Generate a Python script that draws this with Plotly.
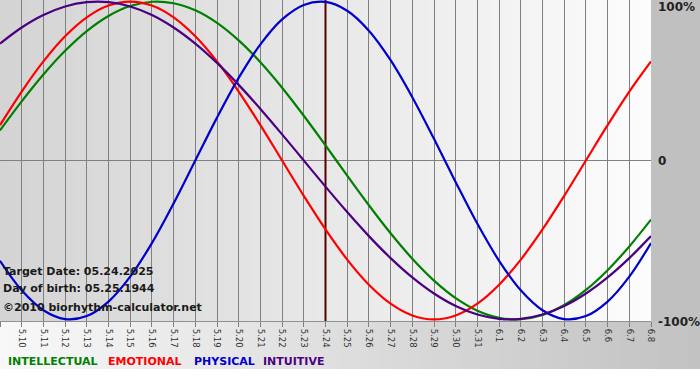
import plotly.graph_objects as go

# ---- data ----
day_labels = ["5.9", "5.10", "5.11", "5.12", "5.13", "5.14", "5.15", "5.16", "5.17", "5.18",
              "5.19", "5.20", "5.21", "5.22", "5.23", "5.24", "5.25", "5.26", "5.27", "5.28",
              "5.29", "5.30", "5.31", "6.1", "6.2", "6.3", "6.4", "6.5", "6.6", "6.7", "6.8"]

physical = [-0.6311, -0.8170, -0.9423, -0.9977, -0.9791, -0.8879, -0.7308, -0.5196, -0.2698, 0.0,
            0.2698, 0.5196, 0.7308, 0.8879, 0.9791, 0.9977, 0.9423, 0.8170, 0.6311, 0.3984,
            0.1362, -0.1362, -0.3984, -0.6311, -0.8170, -0.9423, -0.9977, -0.9791, -0.8879, -0.7308,
            -0.5196]
emotional = [0.2225, 0.4339, 0.6235, 0.7818, 0.9010, 0.9749, 1.0, 0.9749, 0.9010, 0.7818,
             0.6235, 0.4339, 0.2225, 0.0, -0.2225, -0.4339, -0.6235, -0.7818, -0.9010, -0.9749,
             -1.0, -0.9749, -0.9010, -0.7818, -0.6235, -0.4339, -0.2225, 0.0, 0.2225, 0.4339,
             0.6235]
intellectual = [0.1893, 0.3717, 0.5406, 0.6901, 0.8146, 0.9096, 0.9718, 0.9989, 0.9898, 0.9450,
                0.8660, 0.7557, 0.6182, 0.4582, 0.2817, 0.0951, -0.0951, -0.2817, -0.4582, -0.6182,
                -0.7557, -0.8660, -0.9450, -0.9898, -0.9989, -0.9718, -0.9096, -0.8146, -0.6901, -0.5406,
                -0.3717]
intuitive = [0.7357, 0.8372, 0.9158, 0.9694, 0.9966, 0.9966, 0.9694, 0.9158, 0.8372, 0.7357,
             0.6142, 0.4759, 0.3247, 0.1646, 0.0, -0.1646, -0.3247, -0.4759, -0.6142, -0.7357,
             -0.8372, -0.9158, -0.9694, -0.9966, -0.9966, -0.9694, -0.9158, -0.8372, -0.7357, -0.6142,
             -0.4759]

series_names = ["INTELLECTUAL", "EMOTIONAL", "PHYSICAL", "INTUITIVE"]
series_colors = ["#008000", "#ff0000", "#0000cc", "#4b0082"]
target_label = "5.24"
info_lines = ["Target Date: 05.24.2025", "Day of birth: 05.25.1944", "©2010 biorhythm-calculator.net"]
y_tick_text = ["100%", "0", "-100%"]

# ---- figure ----
W, H = 700, 380
ML, MR, MT, MB = 0, 49, 0, 59
PW, PH = W - ML - MR, H - MT - MB
YR = [-1.01, 1.01]

x = list(range(len(day_labels)))
fig = go.Figure()

# target day marker (drawn first so curves sit on top)
ti = day_labels.index(target_label)
fig.add_trace(go.Scatter(x=[ti, ti], y=YR, mode="lines", line=dict(color="#5a0000", width=2),
                         hoverinfo="skip", showlegend=False))

for name, vals, col in zip(series_names, [intellectual, emotional, physical, intuitive], series_colors):
    fig.add_trace(go.Scatter(x=x, y=vals, mode="lines", name=name,
                             line=dict(color=col, width=2.2, shape="spline", smoothing=1.0),
                             hoverinfo="skip"))

shapes = []


def mix(c1, c2, t):
    return "rgb(%d,%d,%d)" % tuple(round(a + (b - a) * t) for a, b in zip(c1, c2))


# plot-area gradient: grey at left -> near white at right
N = 70
for i in range(N):
    t = i / (N - 1)
    shapes.append(dict(type="rect", xref="paper", yref="paper", x0=i / N, x1=(i + 1) / N + 0.002,
                       y0=0, y1=1, fillcolor=mix((212, 212, 212), (252, 252, 252), t),
                       line=dict(width=0), layer="below"))
# bottom band gradient: near white at left -> grey at right
bot = -(48 / PH)
xr = W / PW
for i in range(N):
    t = i / (N - 1)
    shapes.append(dict(type="rect", xref="paper", yref="paper", x0=xr * i / N, x1=xr * (i + 1) / N + 0.002,
                       y0=bot, y1=0, fillcolor=mix((248, 248, 248), (194, 194, 194), t),
                       line=dict(width=0), layer="below"))
# right panel
shapes.append(dict(type="rect", xref="paper", yref="paper", x0=1, x1=xr, y0=0, y1=1,
                   fillcolor="#c0c0c0", line=dict(width=0), layer="below"))

annotations = []
# info text at lower left
for txt, ypx in zip(info_lines, [271, 288, 307]):
    annotations.append(dict(xref="paper", yref="paper", x=1 / PW, y=(PH - ypx) / PH,
                            xanchor="left", yanchor="middle", showarrow=False, text=txt,
                            font=dict(family="DejaVu Sans", size=11, color="#1a1a1a", weight="bold")))
# legend text
for txt, col, xpx in zip(series_names, series_colors, [6, 106, 192, 261]):
    annotations.append(dict(xref="paper", yref="paper", x=xpx / PW, y=(PH - 361) / PH,
                            xanchor="left", yanchor="middle", showarrow=False, text=txt,
                            font=dict(family="DejaVu Sans", size=11, color=col, weight="bold")))
# right-side percentage labels
for txt, ypx in zip(y_tick_text, [7, 161, 322]):
    annotations.append(dict(xref="paper", yref="paper", x=656 / PW, y=(PH - ypx) / PH,
                            xanchor="left", yanchor="middle", showarrow=False, text=txt,
                            font=dict(family="DejaVu Sans", size=12, color="#222222", weight="bold")))

fig.update_layout(
    width=W, height=H,
    margin=dict(l=ML, r=MR, t=MT, b=MB, pad=0),
    paper_bgcolor="white", plot_bgcolor="rgba(0,0,0,0)",
    showlegend=False,
    shapes=shapes, annotations=annotations,
    xaxis=dict(range=[0, len(day_labels) - 1], tickmode="array", tickvals=x, ticktext=day_labels,
               tickangle=90, ticks="outside", ticklen=5, tickcolor="#808080",
               tickfont=dict(family="DejaVu Sans", size=8.5, color="#333333"),
               showgrid=True, gridcolor="#808080", gridwidth=1,
               showline=True, linecolor="#909090", linewidth=1, mirror=True,
               zeroline=False, fixedrange=True),
    yaxis=dict(range=YR, showgrid=False, showticklabels=False, ticks="",
               zeroline=True, zerolinecolor="#808080", zerolinewidth=1, fixedrange=True),
)

fig.write_html("out.html", config={"displayModeBar": False},
               post_script="document.body.style.margin='0';document.body.style.padding='0';")
